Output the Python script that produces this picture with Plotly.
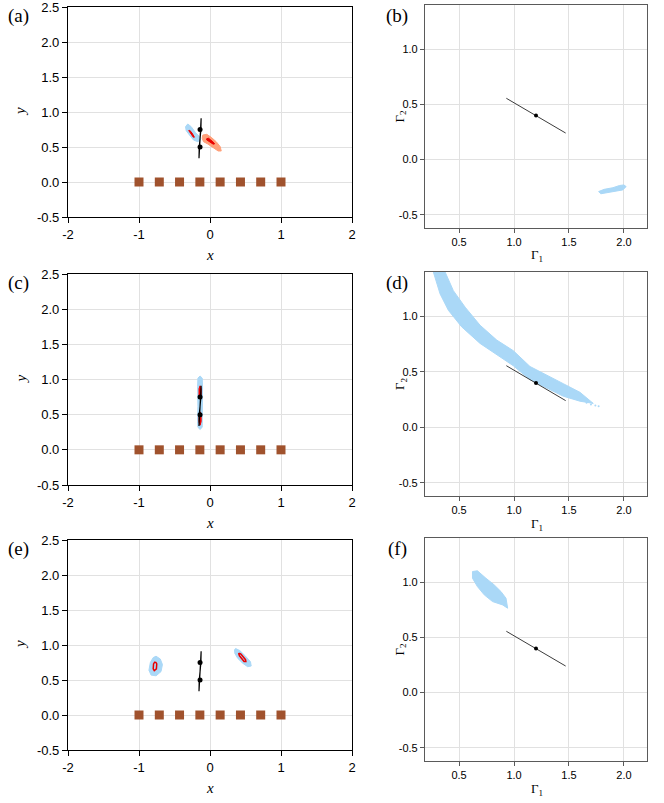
import plotly.graph_objects as go

W, H = 664, 803

# ---------------- data ----------------
# sensor positions (brown squares)
sensor_x = [-1.0, -0.714, -0.429, -0.143, 0.143, 0.429, 0.714, 1.0]
sensor_y = [0, 0, 0, 0, 0, 0, 0, 0]

# true source segment (x,y) and its end dots
true_line_x = [-0.125, -0.128, -0.140, -0.152, -0.155, -0.152, -0.140, -0.128, -0.125]
true_line_y = [0.91, 0.75, 0.62, 0.50, 0.34, 0.50, 0.62, 0.75, 0.91]
true_dots_x = [-0.14, -0.14]
true_dots_y = [0.75, 0.50]

# Gamma-space true line and dot
gam_line_x = [0.93, 1.20, 1.47]
gam_line_y = [0.555, 0.40, 0.24]
gam_dot_x = [1.20]
gam_dot_y = [0.40]

# (a) posterior clouds
a_blue_x = [-0.345, -0.313, -0.265, -0.204, -0.148, -0.134, -0.172, -0.232, -0.289, -0.335]
a_blue_y = [0.79, 0.829, 0.79, 0.705, 0.648, 0.60, 0.576, 0.60, 0.671, 0.733]
a_blue_red_x = [-0.300, -0.285, -0.250, -0.220, -0.220, -0.235, -0.270, -0.300]
a_blue_red_y = [0.735, 0.738, 0.695, 0.655, 0.640, 0.640, 0.685, 0.720]
a_salmon_x = [-0.101, -0.045, 0.017, 0.087, 0.144, 0.158, 0.115, 0.049, -0.031, -0.092, -0.11]
a_salmon_y = [0.671, 0.681, 0.638, 0.576, 0.505, 0.443, 0.443, 0.49, 0.543, 0.576, 0.624]
a_salmon_red_x = [-0.045, -0.020, 0.040, 0.065, 0.045, -0.015, -0.050]
a_salmon_red_y = [0.620, 0.625, 0.575, 0.545, 0.540, 0.575, 0.605]

# (c) posterior clouds
c_blue_x = [-0.14, -0.11, -0.105, -0.11, -0.105, -0.11, -0.14, -0.17, -0.175, -0.17, -0.175, -0.17]
c_blue_y = [1.05, 1.02, 0.90, 0.62, 0.40, 0.32, 0.29, 0.32, 0.40, 0.62, 0.90, 1.02]
c_red1_x = [-0.14, -0.125, -0.125, -0.14, -0.155, -0.155]
c_red1_y = [0.91, 0.87, 0.77, 0.73, 0.77, 0.87]
c_red2_x = [-0.14, -0.125, -0.125, -0.14, -0.155, -0.155]
c_red2_y = [0.54, 0.50, 0.40, 0.35, 0.40, 0.50]

# (e) posterior clouds
e_blue1_x = [-0.76, -0.70, -0.67, -0.69, -0.76, -0.83, -0.86, -0.84, -0.80]
e_blue1_y = [0.84, 0.80, 0.72, 0.62, 0.56, 0.57, 0.64, 0.75, 0.82]
e_red1_x = [-0.765, -0.750, -0.755, -0.785, -0.800, -0.795, -0.780, -0.765]
e_red1_y = [0.755, 0.730, 0.660, 0.635, 0.660, 0.730, 0.755, 0.755]
e_blue2_x = [0.36, 0.42, 0.50, 0.57, 0.58, 0.53, 0.46, 0.39, 0.35, 0.345]
e_blue2_y = [0.95, 0.92, 0.84, 0.76, 0.70, 0.69, 0.74, 0.81, 0.88, 0.93]
e_red2_x = [0.410, 0.435, 0.500, 0.505, 0.480, 0.415, 0.405, 0.410]
e_red2_y = [0.885, 0.870, 0.790, 0.765, 0.765, 0.845, 0.875, 0.885]

# (b) Gamma cloud
b_cloud_x = [1.77, 1.82, 1.90, 1.96, 2.00, 2.02, 1.99, 1.92, 1.85, 1.79]
b_cloud_y = [-0.29, -0.27, -0.255, -0.235, -0.23, -0.245, -0.275, -0.285, -0.30, -0.31]

# (d) Gamma band: upper edge then lower edge (reversed)
d_upper_x = [0.373, 0.448, 0.555, 0.691, 0.843, 0.994, 1.145, 1.297, 1.448, 1.600, 1.721]
d_upper_y = [1.400, 1.232, 1.083, 0.920, 0.786, 0.690, 0.548, 0.473, 0.393, 0.315, 0.215]
d_lower_x = [0.266, 0.327, 0.403, 0.524, 0.691, 0.843, 0.994, 1.145, 1.297, 1.448, 1.600]
d_lower_y = [1.400, 1.203, 1.054, 0.905, 0.756, 0.652, 0.554, 0.429, 0.354, 0.280, 0.235]
d_stray_x = [1.66, 1.70, 1.74, 1.77]
d_stray_y = [0.22, 0.205, 0.195, 0.19]

# (f) Gamma cloud
f_cloud_x = [0.622, 0.667, 0.744, 0.82, 0.881, 0.927, 0.942, 0.896, 0.805, 0.729, 0.667, 0.622]
f_cloud_y = [1.096, 1.103, 1.036, 0.975, 0.915, 0.854, 0.764, 0.794, 0.824, 0.885, 0.96, 1.036]

# axis ticks
left_xticks = [-2, -1, 0, 1, 2]
left_xtext = ["-2", "-1", "0", "1", "2"]
left_yticks = [-0.5, 0.0, 0.5, 1.0, 1.5, 2.0, 2.5]
left_ytext = ["-0.5", "0.0", "0.5", "1.0", "1.5", "2.0", "2.5"]
right_xticks = [0.5, 1.0, 1.5, 2.0]
right_xtext = ["0.5", "1.0", "1.5", "2.0"]
right_yticks = [-0.5, 0.0, 0.5, 1.0]
right_ytext = ["-0.5", "0.0", "0.5", "1.0"]
panel_labels = ["(a)", "(b)", "(c)", "(d)", "(e)", "(f)"]

# ---------------- styling ----------------
BLUE = "rgb(170,216,247)"
SALMON = "rgb(255,160,122)"
RED = "rgb(235,0,0)"
BROWN = "rgb(160,82,45)"
SANS = "Liberation Sans, Arial, sans-serif"
SERIF = "Liberation Serif, Times New Roman, serif"


def px2x(p):
    return p / W


def py2y(p):
    return 1 - p / H


left_rows = [(7, 217), (274, 485), (540, 750)]
right_rows = [(5, 228), (272, 496), (538, 761)]
left_x = (68, 352)
right_x = (425, 647)

fig = go.Figure()


def poly(xs, ys, color, ax, fill=True, width=1):
    fig.add_trace(go.Scatter(
        x=list(xs) + [xs[0]], y=list(ys) + [ys[0]], mode="lines",
        fill="toself" if fill else None,
        fillcolor=color if fill else None,
        line=dict(color=color, width=width),
        xaxis="x" + ax, yaxis="y" + ax, hoverinfo="skip", showlegend=False))


def left_common(ax):
    fig.add_trace(go.Scatter(x=true_line_x, y=true_line_y, mode="lines",
                             line=dict(color="black", width=1.2),
                             xaxis="x" + ax, yaxis="y" + ax, showlegend=False))
    fig.add_trace(go.Scatter(x=true_dots_x, y=true_dots_y, mode="markers",
                             marker=dict(color="black", size=5),
                             xaxis="x" + ax, yaxis="y" + ax, showlegend=False))
    fig.add_trace(go.Scatter(x=sensor_x, y=sensor_y, mode="markers",
                             marker=dict(color=BROWN, size=9, symbol="square",
                                         line=dict(width=0)),
                             xaxis="x" + ax, yaxis="y" + ax, showlegend=False))


def right_common(ax):
    fig.add_trace(go.Scatter(x=gam_line_x, y=gam_line_y, mode="lines",
                             line=dict(color="rgb(60,60,60)", width=1),
                             xaxis="x" + ax, yaxis="y" + ax, showlegend=False))
    fig.add_trace(go.Scatter(x=gam_dot_x, y=gam_dot_y, mode="markers",
                             marker=dict(color="black", size=4),
                             xaxis="x" + ax, yaxis="y" + ax, showlegend=False))


# (a) axis 1
poly(a_blue_x, a_blue_y, BLUE, "")
poly(a_salmon_x, a_salmon_y, SALMON, "")
poly(a_blue_red_x, a_blue_red_y, RED, "")
poly(a_salmon_red_x, a_salmon_red_y, RED, "")
left_common("")

# (b) axis 2
poly(b_cloud_x, b_cloud_y, BLUE, "2")
right_common("2")

# (c) axis 3
poly(c_blue_x, c_blue_y, BLUE, "3")
poly(c_red1_x, c_red1_y, RED, "3")
poly(c_red2_x, c_red2_y, RED, "3")
left_common("3")

# (d) axis 4
poly(d_upper_x + d_lower_x[::-1], d_upper_y + d_lower_y[::-1], BLUE, "4")
fig.add_trace(go.Scatter(x=d_stray_x, y=d_stray_y, mode="markers",
                         marker=dict(color=BLUE, size=2),
                         xaxis="x4", yaxis="y4", showlegend=False))
right_common("4")

# (e) axis 5
poly(e_blue1_x, e_blue1_y, BLUE, "5")
poly(e_blue2_x, e_blue2_y, BLUE, "5")
poly(e_red1_x, e_red1_y, RED, "5", fill=False, width=1.5)
poly(e_red2_x, e_red2_y, RED, "5", fill=False, width=1.5)
left_common("5")

# (f) axis 6
poly(f_cloud_x, f_cloud_y, BLUE, "6")
right_common("6")

layout = dict(width=W, height=H, autosize=False,
              margin=dict(l=0, r=0, t=0, b=0, pad=0),
              paper_bgcolor="white", plot_bgcolor="white",
              showlegend=False)


def ann(text, xp, yp, size, angle=0, family=SERIF):
    return dict(text=text, x=px2x(xp), y=py2y(yp), xref="paper", yref="paper",
                xanchor="center", yanchor="middle", showarrow=False,
                textangle=angle, font=dict(family=family, size=size, color="black"))


annotations = []
for i in range(3):
    # left panel
    n = 2 * i + 1
    k = "" if n == 1 else str(n)
    top, bot = left_rows[i]
    layout["xaxis" + k] = dict(
        domain=[px2x(left_x[0]), px2x(left_x[1])], range=[-2, 2],
        anchor="y" + k, tickvals=left_xticks, ticktext=left_xtext,
        showgrid=True, gridcolor="rgb(225,225,225)", gridwidth=1,
        zeroline=False, showline=True, linecolor="black", linewidth=1.2,
        mirror=True, ticks="outside", ticklen=5, tickcolor="black",
        automargin=False, ticklabeloverflow="allow",
        tickfont=dict(family=SANS, size=13, color="black"))
    layout["yaxis" + k] = dict(
        domain=[py2y(bot), py2y(top)], range=[-0.5, 2.5],
        anchor="x" + k, tickvals=left_yticks, ticktext=left_ytext,
        showgrid=True, gridcolor="rgb(225,225,225)", gridwidth=1,
        zeroline=False, showline=True, linecolor="black", linewidth=1.2,
        mirror=True, ticks="outside", ticklen=5, tickcolor="black",
        automargin=False, ticklabeloverflow="allow",
        tickfont=dict(family=SANS, size=13, color="black"))
    annotations.append(ann("<i>x</i>", 210, bot + 38, 15))
    annotations.append(ann("<i>y</i>", 20, (top + bot) / 2, 15, angle=-90))
    annotations.append(ann(panel_labels[2 * i], 18, top + 9, 19))

    # right panel
    m = 2 * i + 2
    k = str(m)
    top, bot = right_rows[i]
    layout["xaxis" + k] = dict(
        domain=[px2x(right_x[0]), px2x(right_x[1])], range=[0.19, 2.21],
        anchor="y" + k, tickvals=right_xticks, ticktext=right_xtext,
        showgrid=True, gridcolor="rgb(225,225,225)", gridwidth=1,
        zeroline=False, showline=True, linecolor="rgb(90,90,90)", linewidth=1.2,
        mirror=True, ticks="outside", ticklen=4, tickcolor="rgb(90,90,90)",
        automargin=False, ticklabeloverflow="allow",
        tickfont=dict(family=SANS, size=11, color="black"))
    layout["yaxis" + k] = dict(
        domain=[py2y(bot), py2y(top)], range=[-0.62, 1.40],
        anchor="x" + k, tickvals=right_yticks, ticktext=right_ytext,
        showgrid=True, gridcolor="rgb(225,225,225)", gridwidth=1,
        zeroline=False, showline=True, linecolor="rgb(90,90,90)", linewidth=1.2,
        mirror=True, ticks="outside", ticklen=4, tickcolor="rgb(90,90,90)",
        automargin=False, ticklabeloverflow="allow",
        tickfont=dict(family=SANS, size=11, color="black"))
    annotations.append(ann("Γ<sub>1</sub>", 537, bot + 28, 13))
    annotations.append(ann("Γ<sub>2</sub>", 400, (top + bot) / 2, 13, angle=-90))
    annotations.append(ann(panel_labels[2 * i + 1], 397, top + 11, 19))

layout["annotations"] = annotations
fig.update_layout(**layout)
fig.write_html("out.html", config={"displayModeBar": False},
               post_script="document.body.style.margin='0';document.body.style.overflow='hidden';")
